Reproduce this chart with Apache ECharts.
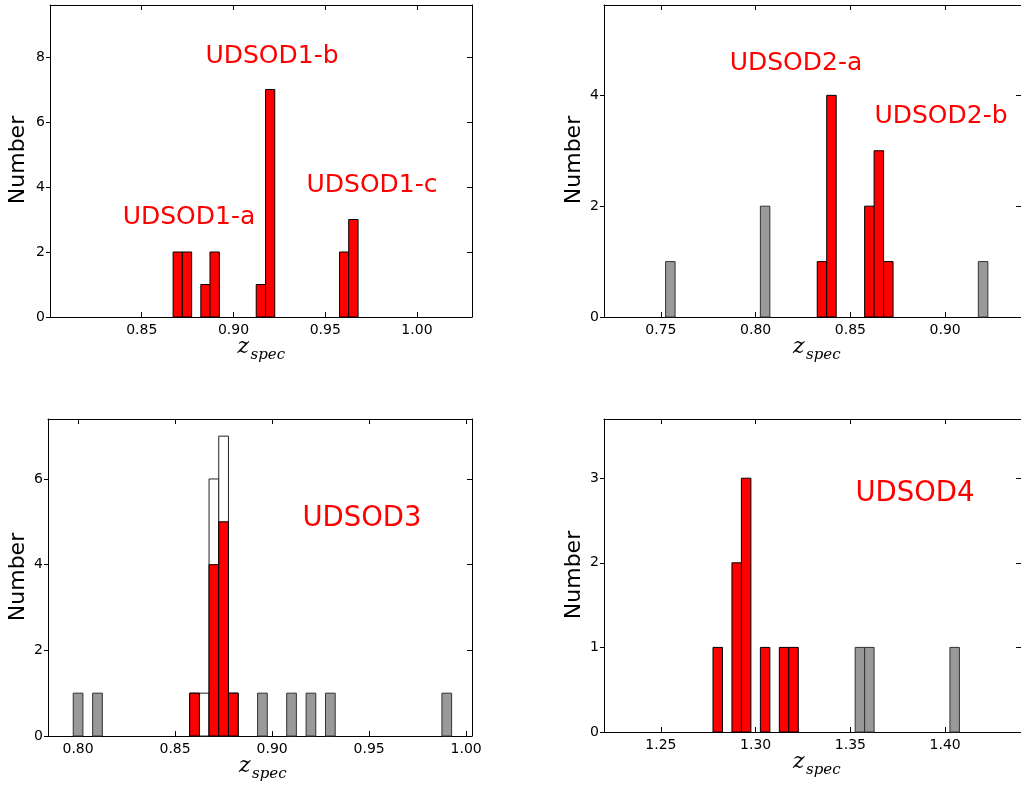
<!DOCTYPE html>
<html>
<head>
<meta charset="utf-8">
<script src="https://cdn.jsdelivr.net/npm/echarts@6/dist/echarts.min.js"></script>
<style>
  html, body { margin: 0; padding: 0; background: #fff; }
  #main { width: 1021px; height: 787px; }
</style>
</head>
<body>
<div id="main"></div>
<script>
// UDSOD1 (members only)
const red1Lo = [0.8671, 0.8721, 0.8822, 0.8872, 0.9124, 0.9175, 0.9578, 0.9628];
const red1Hi = [0.8721, 0.8772, 0.8872, 0.8923, 0.9175, 0.9225, 0.9628, 0.9679];
const red1N = [2, 2, 1, 2, 1, 7, 2, 3];

// UDSOD2
const gray2Lo = [0.7525, 0.8025, 0.9175];
const gray2Hi = [0.7575, 0.8075, 0.9225];
const gray2N = [1, 2, 1];
const red2Lo = [0.8325, 0.8375, 0.8575, 0.8625, 0.8675];
const red2Hi = [0.8375, 0.8425, 0.8625, 0.8675, 0.8725];
const red2N = [1, 4, 2, 3, 1];

// UDSOD3
const gray3Lo = [0.7975, 0.8075, 0.8925, 0.9075, 0.9175, 0.9275, 0.9875];
const gray3Hi = [0.8025, 0.8125, 0.8975, 0.9125, 0.9225, 0.9325, 0.9925];
const gray3N = [1, 1, 1, 1, 1, 1, 1];
const all3Lo = [0.8575, 0.8625, 0.8675, 0.8725, 0.8775];
const all3Hi = [0.8625, 0.8675, 0.8725, 0.8775, 0.8825];
const all3N = [1, 1, 6, 7, 1];
const red3Lo = [0.8575, 0.8675, 0.8725, 0.8775];
const red3Hi = [0.8625, 0.8725, 0.8775, 0.8825];
const red3N = [1, 4, 5, 1];

// UDSOD4
const red4Lo = [1.2775, 1.2875, 1.2925, 1.3025, 1.3125, 1.3175];
const red4Hi = [1.2825, 1.2925, 1.2975, 1.3075, 1.3175, 1.3225];
const red4N = [1, 2, 3, 1, 1, 1];
const gray4Lo = [1.3525, 1.3575, 1.4025];
const gray4Hi = [1.3575, 1.3625, 1.4075];
const gray4N = [1, 1, 1];

// axes
const xTicks1 = [0.85, 0.90, 0.95, 1.00];
const xTicks2 = [0.75, 0.80, 0.85, 0.90];
const xTicks3 = [0.80, 0.85, 0.90, 0.95, 1.00];
const xTicks4 = [1.25, 1.30, 1.35, 1.40];
const yTicks1 = [0, 2, 4, 6, 8];
const yTicks2 = [0, 2, 4];
const yTicks3 = [0, 2, 4, 6];
const yTicks4 = [0, 1, 2, 3];

const panelNames = ['UDSOD1-a', 'UDSOD1-b', 'UDSOD1-c', 'UDSOD2-a', 'UDSOD2-b', 'UDSOD3', 'UDSOD4'];

var myChart = echarts.init(document.getElementById('main'));

function toRows(lo, hi, n) {
  return lo.map((v, i) => [v, hi[i], n[i]]);
}

function barRender(fill, stroke) {
  return function (params, api) {
    var p0 = api.coord([api.value(0), 0]);
    var p1 = api.coord([api.value(1), api.value(2)]);
    return {
      type: 'rect',
      shape: { x: p0[0], y: p1[1], width: p1[0] - p0[0], height: p0[1] - p1[1] },
      style: { fill: fill, stroke: stroke, lineWidth: 1 }
    };
  };
}

function histSeries(gi, rows, fill, stroke) {
  return {
    type: 'custom',
    xAxisIndex: gi * 2,
    yAxisIndex: gi * 2,
    encode: { x: [0, 1], y: 2 },
    renderItem: barRender(fill, stroke),
    data: rows,
    silent: true
  };
}

var font = 'DejaVu Sans';

function xAxes(gi, min, max, ticks) {
  var line = { show: true, onZero: false, lineStyle: { color: '#000', width: 1 } };
  return [
    {
      type: 'value', gridIndex: gi, position: 'bottom', min: min, max: max,
      axisLine: line,
      axisTick: { show: true, inside: true, length: 5, customValues: ticks, lineStyle: { color: '#000' } },
      axisLabel: { show: true, customValues: ticks, formatter: v => v.toFixed(2),
        color: '#000', fontSize: 14, fontFamily: font, margin: 6 },
      splitLine: { show: false }
    },
    {
      type: 'value', gridIndex: gi, position: 'top', min: min, max: max,
      axisLine: line,
      axisTick: { show: true, inside: true, length: 5, customValues: ticks, lineStyle: { color: '#000' } },
      axisLabel: { show: false },
      splitLine: { show: false }
    }
  ];
}

function yAxes(gi, max, ticks) {
  var line = { show: true, onZero: false, lineStyle: { color: '#000', width: 1 } };
  return [
    {
      type: 'value', gridIndex: gi, position: 'left', min: 0, max: max,
      axisLine: line,
      axisTick: { show: true, inside: false, length: 4, customValues: ticks, lineStyle: { color: '#000' } },
      axisLabel: { show: true, customValues: ticks, color: '#000', fontSize: 14, fontFamily: font, margin: 5 },
      splitLine: { show: false }
    },
    {
      type: 'value', gridIndex: gi, position: 'right', min: 0, max: max,
      axisLine: line,
      axisTick: { show: true, inside: true, length: 5, customValues: ticks, lineStyle: { color: '#000' } },
      axisLabel: { show: false },
      splitLine: { show: false }
    }
  ];
}

function label(text, x, y, size) {
  return { type: 'text', x: x, y: y, silent: true,
    style: { text: text, fill: '#ff0000', font: (size || 25) + 'px "DejaVu Sans"', align: 'center', verticalAlign: 'middle' } };
}
function numberLabel(x, y) {
  return { type: 'text', x: x, y: y, rotation: Math.PI / 2, silent: true,
    style: { text: 'Number', fill: '#000', font: '22px "DejaVu Sans"', align: 'center', verticalAlign: 'middle' } };
}
function zLabel(x, y) {
  return [
    { type: 'text', x: x, y: y, silent: true,
      style: { text: 'z', fill: '#000', font: 'italic 22px "DejaVu Serif"', align: 'left', verticalAlign: 'middle' } },
    { type: 'text', x: x + 13, y: y + 8, silent: true,
      style: { text: 'spec', fill: '#000', font: 'italic 15px "DejaVu Serif"', align: 'left', verticalAlign: 'middle' } }
  ];
}

var option = {
  animation: false,
  backgroundColor: '#fff',
  grid: [
    { left: 50, top: 5, width: 422, height: 312 },
    { left: 604, top: 5, width: 424, height: 312 },
    { left: 48, top: 419, width: 424, height: 317 },
    { left: 604, top: 419, width: 424, height: 313 }
  ],
  xAxis: [].concat(
    xAxes(0, 0.80, 1.03, xTicks1),
    xAxes(1, 0.72, 0.94, xTicks2),
    xAxes(2, 0.7845, 1.003, xTicks3),
    xAxes(3, 1.22, 1.44, xTicks4)
  ),
  yAxis: [].concat(
    yAxes(0, 9.6, yTicks1),
    yAxes(1, 5.63, yTicks2),
    yAxes(2, 7.4, yTicks3),
    yAxes(3, 3.7, yTicks4)
  ),
  series: [
    histSeries(0, toRows(red1Lo, red1Hi, red1N), '#ff0000', '#000'),
    histSeries(1, toRows(gray2Lo, gray2Hi, gray2N), '#999999', '#333'),
    histSeries(1, toRows(red2Lo, red2Hi, red2N), '#ff0000', '#000'),
    histSeries(2, toRows(gray3Lo, gray3Hi, gray3N), '#999999', '#333'),
    histSeries(2, toRows(all3Lo, all3Hi, all3N), '#ffffff', '#222'),
    histSeries(2, toRows(red3Lo, red3Hi, red3N), '#ff0000', '#000'),
    histSeries(3, toRows(red4Lo, red4Hi, red4N), '#ff0000', '#000'),
    histSeries(3, toRows(gray4Lo, gray4Hi, gray4N), '#999999', '#333')
  ],
  graphic: [].concat(
    [
      label(panelNames[0], 189, 217),
      label(panelNames[1], 272, 56),
      label(panelNames[2], 372, 185.5),
      label(panelNames[3], 796, 63),
      label(panelNames[4], 941, 116.5),
      label(panelNames[5], 362, 519, 27.5),
      label(panelNames[6], 915, 493.5, 27.5),
      numberLabel(18, 160),
      numberLabel(574, 160),
      numberLabel(18, 577),
      numberLabel(574, 575)
    ],
    zLabel(237.5, 347),
    zLabel(793, 347),
    zLabel(239, 766),
    zLabel(793, 762)
  )
};

myChart.setOption(option);
</script>
</body>
</html>
